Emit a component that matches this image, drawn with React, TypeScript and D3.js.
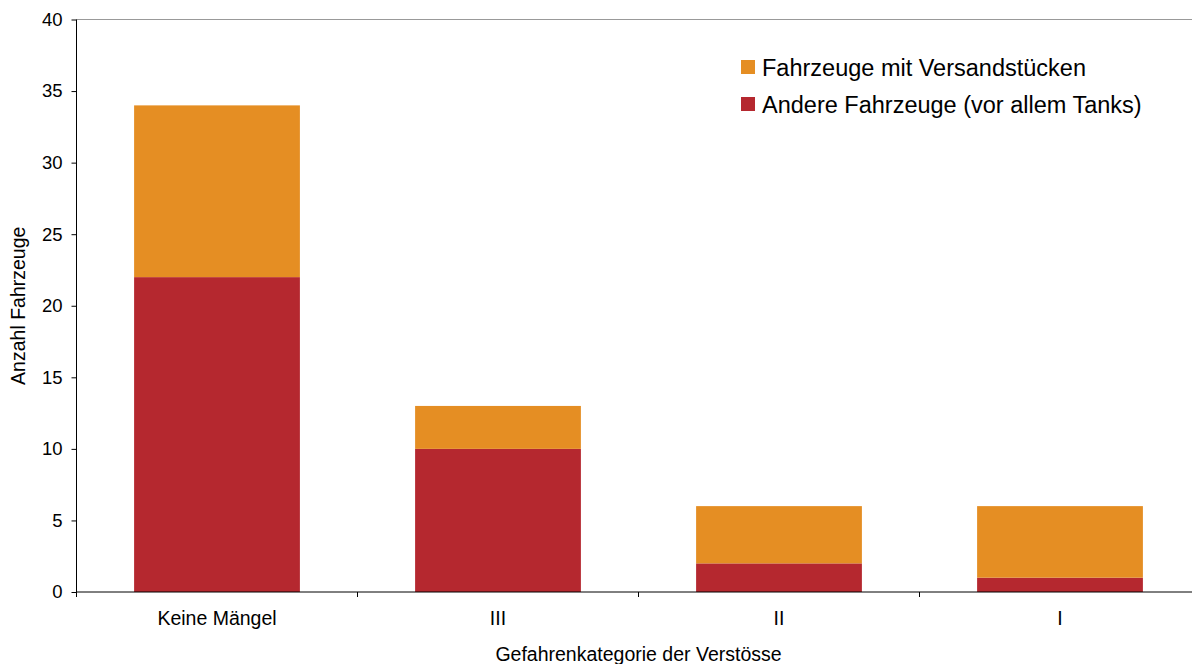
import React, { useEffect, useRef } from 'react';
import * as d3 from 'd3';

// Kategorien und Werte
const categories = ['Keine Mängel', 'III', 'II', 'I'];
const andereFahrzeuge = [22, 10, 2, 1];
const versandstuecke = [12, 3, 4, 5];
const yTicks = [0, 5, 10, 15, 20, 25, 30, 35, 40];

const seriesNames = ['Andere Fahrzeuge (vor allem Tanks)', 'Fahrzeuge mit Versandstücken'];
const colors = ['#B5282F', '#E58E23'];

export default function App() {
    const ref = useRef<SVGSVGElement>(null);

    useEffect(() => {
        const svg = d3.select(ref.current);
        svg.selectAll('*').remove();

        const left = 76.5, right = 1200.5, top = 19.5, bottom = 592;
        const font = 'Liberation Sans, Arial, sans-serif';

        const x = d3.scaleBand()
            .domain(categories)
            .range([left, right])
            .paddingInner(0.41)
            .paddingOuter(0.205);

        const y = d3.scaleLinear().domain([0, 40]).range([bottom, top]);

        const rows = categories.map((c, i) => ({
            cat: c,
            andere: andereFahrzeuge[i],
            versand: versandstuecke[i]
        }));
        const stack = d3.stack<any>().keys(['andere', 'versand'])(rows);

        // obere Linie
        svg.append('line')
            .attr('x1', left).attr('x2', right)
            .attr('y1', top).attr('y2', top)
            .attr('stroke', '#999').attr('stroke-width', 1);

        // Balken
        stack.forEach((layer, li) => {
            svg.append('g')
                .selectAll('rect')
                .data(layer)
                .enter()
                .append('rect')
                .attr('x', (d: any) => x(d.data.cat)!)
                .attr('y', d => y(d[1]))
                .attr('width', x.bandwidth())
                .attr('height', d => y(d[0]) - y(d[1]))
                .attr('fill', colors[li]);
        });

        // y-Achse
        const yAxis = svg.append('g')
            .attr('transform', `translate(${left},0)`)
            .call(d3.axisLeft(y).tickValues(yTicks).tickSize(5).tickPadding(9));
        yAxis.select('.domain').attr('stroke', '#000').attr('d', `M0,${top}V${bottom}`);
        yAxis.selectAll('.tick line').attr('stroke', '#000');
        yAxis.selectAll('text')
            .attr('font-family', font).attr('font-size', 18.5).attr('fill', '#000');

        // x-Achse
        const xAxis = svg.append('g')
            .attr('transform', `translate(0,${bottom})`);
        xAxis.append('line')
            .attr('x1', left).attr('x2', right)
            .attr('stroke', '#000').attr('stroke-width', 1);
        const step = x.step();
        xAxis.selectAll('.sep')
            .data(d3.range(categories.length + 1))
            .enter()
            .append('line')
            .attr('x1', i => left + i * step)
            .attr('x2', i => left + i * step)
            .attr('y1', 0).attr('y2', 5)
            .attr('stroke', '#000');
        xAxis.selectAll('.lbl')
            .data(categories)
            .enter()
            .append('text')
            .attr('x', d => x(d)! + x.bandwidth() / 2)
            .attr('y', 33)
            .attr('text-anchor', 'middle')
            .attr('font-family', font).attr('font-size', 19.5).attr('fill', '#000')
            .text(d => d);

        // Achsentitel
        svg.append('text')
            .attr('x', (left + right) / 2)
            .attr('y', 661)
            .attr('text-anchor', 'middle')
            .attr('font-family', font).attr('font-size', 19.5).attr('fill', '#000')
            .text('Gefahrenkategorie der Verstösse');
        svg.append('text')
            .attr('transform', `translate(25,${(top + bottom) / 2}) rotate(-90)`)
            .attr('text-anchor', 'middle')
            .attr('font-family', font).attr('font-size', 19.5).attr('fill', '#000')
            .text('Anzahl Fahrzeuge');

        // Legende
        const legend = svg.append('g').attr('transform', 'translate(741,60)');
        [1, 0].forEach((si, row) => {
            const g = legend.append('g').attr('transform', `translate(0,${row * 37})`);
            g.append('rect')
                .attr('width', 14).attr('height', 14)
                .attr('fill', colors[si]);
            g.append('text')
                .attr('x', 21).attr('y', 16)
                .attr('font-family', font).attr('font-size', 23.5).attr('fill', '#000')
                .text(seriesNames[si]);
        });
    }, []);

    return (
        <svg ref={ref} width={1192} height={664}
             style={{ position: 'absolute', left: 0, top: 0, background: '#fff' }} />
    );
}
